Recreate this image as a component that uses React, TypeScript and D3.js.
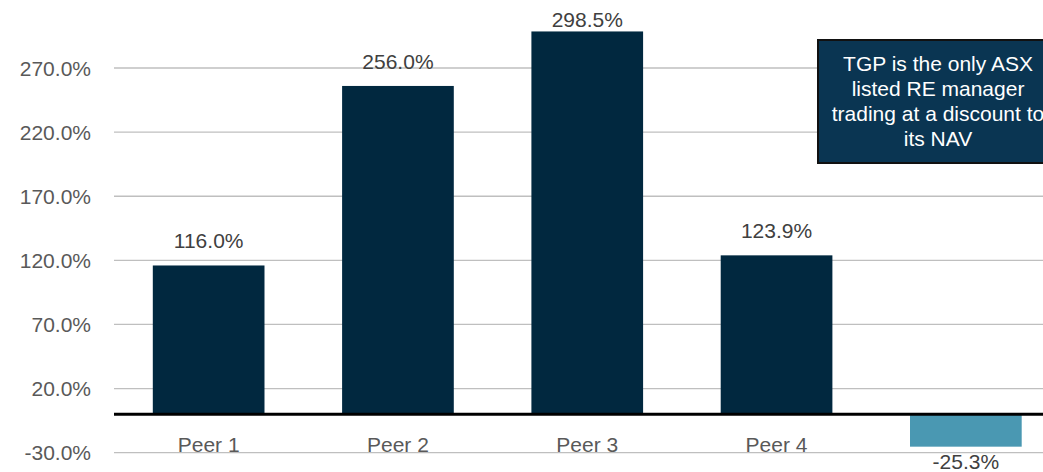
import React from 'react';
import * as d3 from 'd3';

// Premium / (discount) to NAV
const categories = ['Peer 1', 'Peer 2', 'Peer 3', 'Peer 4', 'TGP'];
const categoryLabels = ['Peer 1', 'Peer 2', 'Peer 3', 'Peer 4', ''];
const values = [116.0, 256.0, 298.5, 123.9, -25.3];
const yTicks = [-30, 20, 70, 120, 170, 220, 270];
const noteLines = ['TGP is the only ASX', 'listed RE manager', 'trading at a discount to', 'its NAV'];

const W = 1043;
const H = 472;
const FONT = '"Liberation Sans", Arial, sans-serif';

export default function App() {
  const x = d3.scaleBand<string>()
    .domain(categories)
    .range([114, 114 + 5 * 189.3])
    .paddingInner(0.41)
    .paddingOuter(0.205);

  const y = d3.scaleLinear().domain([-30, 270]).range([452.7, 68]);
  const fmt = (v: number) => `${v.toFixed(1)}%`;

  return (
    <div style={{ position: 'fixed', left: 0, top: 0 }}>
      <svg width={W} height={H} style={{ display: 'block', background: '#fff' }} fontFamily={FONT}>
        {/* gridlines + y tick labels */}
        {yTicks.map(t => (
          <g key={t}>
            <line x1={114} x2={W} y1={y(t)} y2={y(t)} stroke="#bfbfbf" strokeWidth={1.3} />
            <text x={91} y={y(t)} dy="0.36em" textAnchor="end" fontSize={21} fill="#595959">
              {fmt(t)}
            </text>
          </g>
        ))}

        {/* bars */}
        {categories.map((c, i) => {
          const v = values[i];
          const y0 = y(0);
          const y1 = y(v);
          return (
            <rect
              key={c}
              x={x(c)!}
              width={x.bandwidth()}
              y={Math.min(y0, y1)}
              height={Math.abs(y1 - y0)}
              fill={v < 0 ? '#4a98b2' : '#01283f'}
            />
          );
        })}

        {/* zero axis */}
        <line x1={114} x2={W} y1={y(0)} y2={y(0)} stroke="#000" strokeWidth={3} />

        {/* category labels */}
        {categories.map((c, i) => (
          <text key={c} x={x(c)! + x.bandwidth() / 2} y={452} textAnchor="middle" fontSize={21} fill="#595959">
            {categoryLabels[i]}
          </text>
        ))}

        {/* value labels */}
        {categories.map((c, i) => {
          const v = values[i];
          const cx = x(c)! + x.bandwidth() / 2;
          const ty = v < 0 ? y(v) + 22 : Math.max(y(v) - 17, 27);
          return (
            <text key={c} x={cx} y={ty} textAnchor="middle" fontSize={21} fill="#404040">
              {fmt(v)}
            </text>
          );
        })}

        {/* annotation */}
        <rect x={818} y={40} width={240} height={123} fill="#0a3552" stroke="#111" strokeWidth={2} />
        {noteLines.map((l, i) => (
          <text key={l} x={938} y={71 + i * 25} textAnchor="middle" fontSize={21} fill="#fff">
            {l}
          </text>
        ))}
      </svg>
    </div>
  );
}
